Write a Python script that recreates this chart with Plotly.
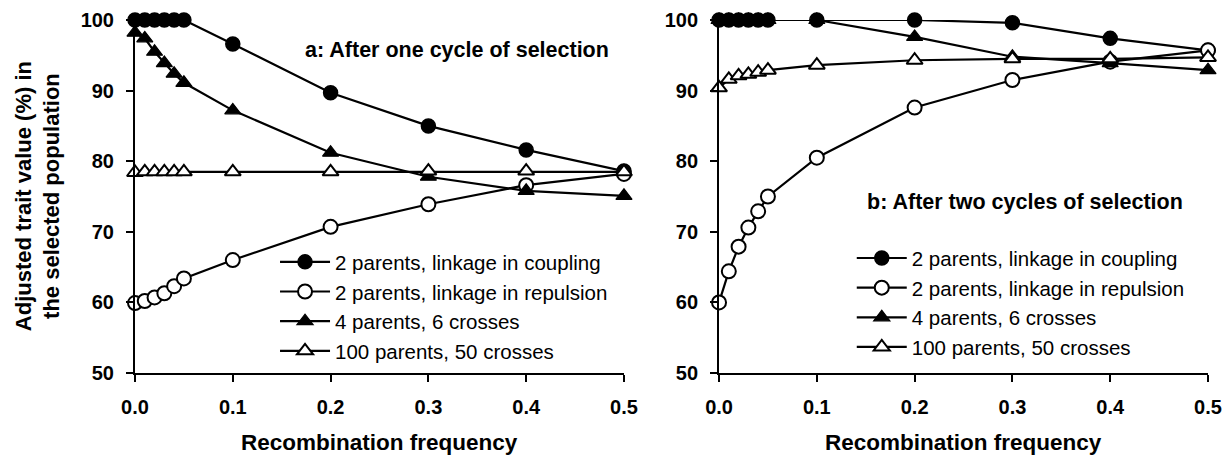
import plotly.graph_objects as go

rec_freq = [0, 0.01, 0.02, 0.03, 0.04, 0.05, 0.1, 0.2, 0.3, 0.4, 0.5]

series_names = [
    "2 parents, linkage in coupling",
    "2 parents, linkage in repulsion",
    "4 parents, 6 crosses",
    "100 parents, 50 crosses",
]

# Panel a: after one cycle of selection
coupling_a = [100, 100, 100, 100, 100, 100, 96.6, 89.7, 85.0, 81.6, 78.6]
repulsion_a = [59.9, 60.2, 60.7, 61.3, 62.3, 63.4, 66.0, 70.7, 73.9, 76.6, 78.2]
four_a = [98.2, 97.4, 95.5, 93.9, 92.4, 91.1, 87.2, 81.2, 77.8, 75.8, 75.1]
hundred_a = [78.4, 78.5, 78.5, 78.5, 78.5, 78.5, 78.5, 78.5, 78.6, 78.6, 78.5]

# Panel b: after two cycles of selection
coupling_b = [100, 100, 100, 100, 100, 100, 100, 100, 99.6, 97.4, 95.7]
repulsion_b = [60.0, 64.4, 67.9, 70.6, 72.9, 75.0, 80.5, 87.6, 91.5, 94.1, 95.7]
four_b = [100, 100, 100, 100, 100, 100, 100, 97.6, 94.8, 93.9, 92.9]
hundred_b = [90.4, 91.6, 92.1, 92.3, 92.6, 92.9, 93.6, 94.3, 94.5, 94.5, 94.7]

x_ticks = [0, 0.1, 0.2, 0.3, 0.4, 0.5]
y_ticks = [50, 60, 70, 80, 90, 100]

x_title = "Recombination frequency"
y_title = "Adjusted trait value (%) in<br>the selected population"
panel_labels = ["a: After one cycle of selection", "b: After two cycles of selection"]

FONT = "Liberation Sans, Arial, sans-serif"

styles = [
    dict(symbol="circle", size=14, color="black", line=dict(color="black", width=1.5)),
    dict(symbol="circle", size=14, color="white", line=dict(color="black", width=2)),
    dict(symbol="triangle-up", size=14, color="black", line=dict(color="black", width=1.2)),
    dict(symbol="triangle-up", size=14, color="white", line=dict(color="black", width=2)),
]

fig = go.Figure()

panels = [
    ("x", "y", "legend", [coupling_a, repulsion_a, four_a, hundred_a]),
    ("x2", "y2", "legend2", [coupling_b, repulsion_b, four_b, hundred_b]),
]
for xa, ya, leg, data in panels:
    for i, (name, vals) in enumerate(zip(series_names, data)):
        fig.add_trace(go.Scatter(
            x=rec_freq, y=vals, name=name, mode="lines+markers",
            line=dict(color="black", width=2.2),
            marker=styles[i], xaxis=xa, yaxis=ya, legend=leg,
            legendgroup=leg + str(i), cliponaxis=False,
        ))

axis_common = dict(
    showline=True, linecolor="black", linewidth=2, showgrid=False, zeroline=False,
    ticks="outside", ticklen=7, tickwidth=2, tickcolor="black",
    tickfont=dict(family=FONT, size=20, color="black", weight="bold"),
    ticklabelstandoff=8, automargin=False,
)

xaxis_common = dict(axis_common, range=[0, 0.5], tickvals=x_ticks, tickformat=".1f")
yaxis_common = dict(axis_common, range=[50, 100], tickvals=y_ticks)

legend_common = dict(
    font=dict(family=FONT, size=20.5, color="black"),
    bgcolor="rgba(0,0,0,0)", borderwidth=0, itemwidth=50,
    tracegroupgap=4, xanchor="left", yanchor="top", traceorder="normal",
)

dom_a = [0, 0.4557]
dom_b = [0.5443, 1]

title_font = dict(family=FONT, size=22.5, color="black", weight="bold")
label_font = dict(family=FONT, size=21.5, color="black", weight="bold")

fig.update_layout(
    width=1228, height=459,
    margin=dict(l=135, r=20, t=20, b=86, autoexpand=False),
    paper_bgcolor="white", plot_bgcolor="white",
    showlegend=True,
    xaxis=dict(xaxis_common, domain=dom_a, anchor="y"),
    yaxis=dict(yaxis_common, domain=[0, 1], anchor="x"),
    xaxis2=dict(xaxis_common, domain=dom_b, anchor="y2"),
    yaxis2=dict(yaxis_common, domain=[0, 1], anchor="x2"),
    legend=dict(legend_common, x=0.1305, y=0.371),
    legend2=dict(legend_common, x=0.668, y=0.382),
    annotations=[
        dict(text=panel_labels[0], xref="paper", yref="paper",
             x=0.1566, y=0.915, xanchor="left", yanchor="middle", showarrow=False,
             font=label_font),
        dict(text=panel_labels[1], xref="paper", yref="paper",
             x=0.680, y=0.484, xanchor="left", yanchor="middle", showarrow=False,
             font=label_font),
        dict(text=x_title, xref="paper", yref="paper", x=sum(dom_a) / 2, y=-0.1983,
             xanchor="center", yanchor="middle", showarrow=False, font=title_font),
        dict(text=x_title, xref="paper", yref="paper", x=sum(dom_b) / 2, y=-0.1983,
             xanchor="center", yanchor="middle", showarrow=False, font=title_font),
        dict(text=y_title, xref="paper", yref="paper", x=-0.0904, y=0.501,
             xanchor="center", yanchor="middle", textangle=-90, showarrow=False,
             font=dict(family=FONT, size=22, color="black", weight="bold")),
    ],
)

fig.write_html("out.html")
